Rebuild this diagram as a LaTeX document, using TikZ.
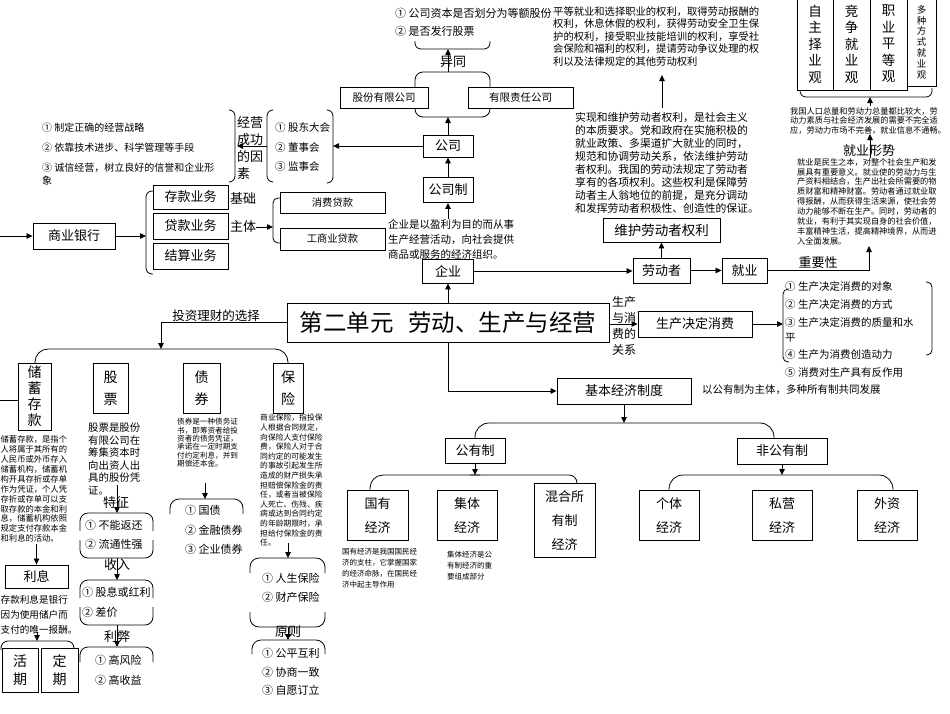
\documentclass[tikz,border=0pt]{standalone}
\usepackage{fontspec}
\setmainfont{Noto Sans CJK SC}
\usetikzlibrary{arrows.meta}
\newcommand{\F}[2]{\fontsize{#1}{#2}\selectfont}
\tikzset{
 bx/.style={draw, line width=0.9pt, fill=white, inner sep=1pt, align=center, font=\F{13}{15}},
 lab/.style={inner sep=0pt, anchor=west},
 para/.style={inner sep=0pt, anchor=north west, align=left},
 captxt/.style={inner sep=0pt, font=\F{13}{15}},
 ln/.style={line width=0.8pt},
 arr/.style={line width=0.8pt, -{Triangle[length=6pt,width=5.5pt]}},
 br/.style={line width=0.8pt, rounded corners=6pt},
}
\begin{document}
\begin{tikzpicture}[x=1pt,y=-1pt]
\fill[white] (0,0) rectangle (950,713);
\useasboundingbox (0,0) rectangle (950,713);

% ===== commercial bank
\coordinate (bankIn) at (0,236);
\node[bx, minimum width=82pt, minimum height=26pt] (bank) at (74,236) {商业银行};
\draw[arr] (bankIn) -- (bank.west);
\coordinate (bankBr) at (146,236);
\draw[arr] (bank.east) -- (bankBr);
\draw[br] (153,191) -- (146,191) -- (146,274) -- (153,274);
\node[bx, minimum width=75pt, minimum height=24pt] (ck) at (190.5,197) {存款业务};
\node[bx, minimum width=75pt, minimum height=26pt] (dk) at (190.5,226) {贷款业务};
\node[bx, minimum width=75pt, minimum height=26pt] (js) at (190.5,256) {结算业务};
\node[lab, font=\F{13}{15}] (jc) at (230,198) {基础};
\node[lab, font=\F{13}{15}] (zt) at (230,227) {主体};
\coordinate (dkBr) at (273,227);
\draw[arr] (zt.east) -- (dkBr);
\draw[br, rounded corners=5pt] (280,198) -- (273,198) -- (273,243) -- (280,243);
\node[bx, font=\F{10.3}{12}, minimum width=105pt, minimum height=21pt] (xf) at (332.5,202.5) {消费贷款};
\node[bx, font=\F{10.3}{12}, minimum width=105pt, minimum height=22pt] (gsy) at (332.5,239) {工商业贷款};

% ===== success factors
\node[lab, font=\F{10}{12}] (s1) at (42,128) {① 制定正确的经营战略};
\node[lab, font=\F{10}{12}] (s2) at (42,148) {② 依靠技术进步、科学管理等手段};
\node[lab, font=\F{10}{12}] (s3) at (42,168) {③ 诚信经营，树立良好的信誉和企业形};
\node[lab, font=\F{10}{12}] (s4) at (42,181) {象};
\draw[br] (229,110) -- (235,110) -- (235,182) -- (229,182);
\node[para, font=\F{13}{17}] (succ) at (237,116.5) {经营\\成功\\的因\\素};
\coordinate (succR) at (237,146);
\draw[br] (273,110) -- (267,110) -- (267,182) -- (273,182);
\coordinate (govL) at (267,146);
\draw[arr] (govL) -- (succR);
\node[lab, font=\F{10.5}{12}] (g1) at (275,128) {① 股东大会};
\node[lab, font=\F{10.5}{12}] (g2) at (275,148) {② 董事会};
\node[lab, font=\F{10.5}{12}] (g3) at (275,167) {③ 监事会};
\draw[br] (327,110) -- (333,110) -- (333,183) -- (327,183);
\coordinate (govR) at (333,146);

% ===== company
\node[bx, minimum width=50pt, minimum height=22pt] (gs) at (448,146) {公司};
\draw[arr] (gs.west) -- (govR);
\node[bx, minimum width=50pt, minimum height=25pt] (gsz) at (448,190) {公司制};
\draw[arr] (gsz.north) -- (gs.south);
\draw[br, rounded corners=8pt] (415,72) rectangle (490,117);
\node[bx, font=\F{10.5}{12}, minimum width=88pt, minimum height=21pt] (gf) at (384,97.5) {股份有限公司};
\node[bx, font=\F{10.5}{12}, minimum width=105pt, minimum height=21pt] (yx) at (520.5,97.5) {有限责任公司};
\coordinate (ytB) at (448,117);
\coordinate (ytT) at (448,72);
\coordinate (ytTop) at (448,49);
\draw[arr] (gs.north) -- (ytB);
\draw[arr] (ytT) -- (ytTop);
\node[captxt] (yt) at (453,62) {异同};
\draw[br] (415,41) -- (415,49) -- (490,49) -- (490,41);
\node[lab, font=\F{11}{12}] (d1) at (395,13) {① 公司资本是否划分为等额股份};
\node[lab, font=\F{11}{12}] (d2) at (395,31) {② 是否发行股票};

% ===== enterprise
\node[bx, minimum width=51pt, minimum height=24pt] (qy) at (448,271) {企业};
\draw[arr] (qy.north) -- (gsz.south);
\node[para, fill=white, font=\F{10.5}{15}] (qyt) at (388,219) {企业是以盈利为目的而从事\\生产经营活动，向社会提供\\商品或服务的经济组织。};

% ===== title
\node[bx, font=\F{23.5}{26}, minimum width=322pt, minimum height=39pt] (title) at (448,322.5) {第二单元\hspace{0.6em}劳动、生产与经营};
\draw[arr] (title.north) -- (qy.south);

% ===== labour
\node[bx, minimum width=57pt, minimum height=25pt] (ldz) at (661.5,270.5) {劳动者};
\node[bx, font=\F{13.5}{15}, minimum width=117pt, minimum height=24pt] (wh) at (661.5,230) {维护劳动者权利};
\node[bx, minimum width=45pt, minimum height=25pt] (jy) at (744.5,270.5) {就业};
\draw[arr] (qy.east) -- (ldz.west |- qy.east);
\draw[arr] (ldz.north) -- (wh.south);
\draw[arr] (ldz.east) -- (jy.west);
\coordinate (zyTop) at (869,246);
\draw[arr] (jy.east) -| (zyTop);
\node[captxt] (zyx) at (818,263) {重要性};

\node[para, font=\F{10.3}{12.5}] (p1) at (553,6.5) {平等就业和选择职业的权利，取得劳动报酬的\\权利，休息休假的权利，获得劳动安全卫生保\\护的权利，接受职业技能培训的权利，享受社\\会保险和福利的权利，提请劳动争议处理的权\\利以及法律规定的其他劳动权利};
\node[para, font=\F{10.8}{13}] (p2) at (575,112.5) {实现和维护劳动者权利，是社会主义\\的本质要求。党和政府在实施积极的\\就业政策、多渠道扩大就业的同时，\\规范和协调劳动关系，依法维护劳动\\者权利。我国的劳动法规定了劳动者\\享有的各项权利。这些权利是保障劳\\动者主人翁地位的前提，是充分调动\\和发挥劳动者积极性、创造性的保证。};
\coordinate (p2top) at (662,108);
\coordinate (p1bot) at (662,75);
\draw[arr] (p2top) -- (p1bot);

% ===== employment views
\draw[br] (800,88) -- (800,97) -- (932,97) -- (932,88);
\node[bx, font=\F{13.5}{16.5}, minimum width=36pt, minimum height=92pt] (b1) at (815,44) {自\\主\\择\\业\\观};
\node[bx, font=\F{13.5}{16.5}, minimum width=37pt, minimum height=92pt] (b2) at (851.5,44) {竞\\争\\就\\业\\观};
\node[bx, font=\F{13.5}{16.5}, minimum width=37pt, minimum height=92pt] (b3) at (888.5,44) {职\\业\\平\\等\\观};
\node[bx, font=\F{9.5}{10.8}, minimum width=29pt, minimum height=88pt] (b4) at (921.5,42) {多\\种\\方\\式\\就\\业\\观};
\coordinate (t3top) at (870,106);
\coordinate (brB) at (870,97);
\draw[arr] (t3top) -- (brB);
\node[para, font=\F{8.2}{9.6}] (t3) at (790,107) {我国人口总量和劳动力总量都比较大，劳\\动力素质与社会经济发展的需要不完全适\\应，劳动力市场不完善，就业信息不通畅。};
\coordinate (xsA) at (870,158);
\coordinate (xsB) at (870,134);
\draw[arr] (xsA) -- (xsB);
\node[captxt] (xs) at (869,151) {就业形势};
\node[para, font=\F{8.2}{9.9}] (p3) at (797,158) {就业是民生之本，对整个社会生产和发\\展具有重要意义。就业使的劳动力与生\\产资料相结合，生产出社会所需要的物\\质财富和精神财富。劳动者通过就业取\\得报酬，从而获得生活来源，使社会劳\\动力能够不断在生产。同时，劳动者的\\就业，有利于其实现自身的社会价值，\\丰富精神生活，提高精神境界，从而进\\入全面发展。};

% ===== production & consumption
\node[para, font=\F{12}{16}] (scgx) at (612,296) {生产\\与消\\费的\\关系};
\node[bx, minimum width=114pt, minimum height=26pt] (sc) at (695,324) {生产决定消费};
\draw[arr] (title.east |- sc.west) -- (sc.west);
\coordinate (scL) at (783,324);
\draw[arr] (sc.east) -- (scL);
\draw[br, rounded corners=5pt] (789,289) -- (783,289) -- (783,362) -- (789,362);
\draw[br, rounded corners=5pt] (926,282) -- (932,282) -- (932,355) -- (926,355);
\node[lab, font=\F{10.5}{12}] (c1) at (785,287) {① 生产决定消费的对象};
\node[lab, font=\F{10.5}{12}] (c2) at (785,305) {② 生产决定消费的方式};
\node[lab, font=\F{10.5}{12}] (c3) at (785,323) {③ 生产决定消费的质量和水};
\node[lab, font=\F{10.5}{12}] (c3b) at (785,338) {平};
\node[lab, font=\F{10.5}{12}] (c4) at (785,355) {④ 生产为消费创造动力};
\node[lab, font=\F{10.5}{12}] (c5) at (785,373) {⑤ 消费对生产具有反作用};
\node[lab, font=\F{10.5}{12}] (zhu) at (702,390) {以公有制为主体，多种所有制共同发展};

% ===== basic economic system
\node[bx, minimum width=134pt, minimum height=26pt] (jb) at (624,391) {基本经济制度};
\draw[arr] (title.south) |- (jb.west);
\coordinate (jbB) at (624,423);
\draw[arr] (jb.south) -- (jbB);
\draw[ln, rounded corners=14pt] (475,438) -- (475,423) -- (774,423) -- (774,438);
\node[bx, minimum width=60pt, minimum height=25pt] (gyz) at (475,450.5) {公有制};
\node[bx, minimum width=90pt, minimum height=26pt] (fgy) at (782,451) {非公有制};
\coordinate (gyzB) at (475,475);
\draw[arr] (gyz.south) -- (gyzB);
\draw[ln, rounded corners=13pt] (370,490) -- (370,475) -- (480,475);
\draw[ln, rounded corners=8pt] (470,475) -- (577,475) -- (577,483);
\node[bx, font=\F{13}{24}, minimum width=61pt, minimum height=50pt] (gy) at (377.5,515) {国有\\经济};
\node[bx, font=\F{13}{24}, minimum width=60pt, minimum height=50pt] (jt) at (467,515) {集体\\经济};
\node[bx, font=\F{13}{24}, minimum width=61pt, minimum height=74pt] (hh) at (564.5,520) {混合所\\有制\\经济};
\node[para, font=\F{7.5}{11}] (gyt) at (342,548) {国有经济是我国国民经\\济的支柱，它掌握国家\\的经济命脉，在国民经\\济中起主导作用};
\node[para, font=\F{7.5}{11}] (jtt) at (447,551) {集体经济是公\\有制经济的重\\要组成部分};
\coordinate (fgyB) at (782,475);
\draw[arr] (fgy.south) -- (fgyB);
\draw[ln, rounded corners=14pt] (669,490) -- (669,475) -- (893,475) -- (893,490);
\node[bx, font=\F{13}{24}, minimum width=60pt, minimum height=50pt] (gt) at (669,515) {个体\\经济};
\node[bx, font=\F{13}{24}, minimum width=60pt, minimum height=50pt] (sy) at (782,515) {私营\\经济};
\node[bx, font=\F{13}{24}, minimum width=60pt, minimum height=50pt] (wz) at (887,515) {外资\\经济};

% ===== investment
\coordinate (invD) at (161,349);
\draw[arr] (title.west) -| (invD);
\node[inner sep=0pt, font=\F{12.5}{14}] (invL) at (216,316) {投资理财的选择};
\draw[ln, rounded corners=13pt] (35,363) -- (35,349) -- (288,349) -- (288,363);

% savings
\node[bx, font=\F{14}{16}, minimum width=33pt, minimum height=67pt] (cx) at (34.5,396.5) {储\\蓄\\存\\款};
\coordinate (cxIn) at (0,400);
\draw[ln] (cxIn) -- (cx.west |- cxIn);
\node[para, font=\F{8.3}{9.9}] (cxt) at (0.5,435.5) {储蓄存款，是指个\\人将属于其所有的\\人民币或外币存入\\储蓄机构，储蓄机\\构开具存折或存单\\作为凭证，个人凭\\存折或存单可以支\\取存款的本金和利\\息，储蓄机构依照\\规定支付存款本金\\和利息的活动。};
\node[bx, minimum width=63pt, minimum height=23pt] (lx) at (36.5,576.5) {利息};
\coordinate (cxtB) at (36.5,544);
\draw[arr] (cxtB) -- (lx.north);
\node[para, font=\F{9.6}{15}] (lxt) at (0.5,595) {存款利息是银行\\因为使用储户而\\支付的唯一报酬。};
\coordinate (lxtB) at (37,632);
\coordinate (dqT) at (37,641);
\draw[arr] (lxtB) -- (dqT);
\draw[br, rounded corners=7pt] (1,650) -- (1,641) -- (74,641) -- (74,650);
\node[bx, font=\F{14}{18}, minimum width=36pt, minimum height=44pt] (hq) at (20,670) {活\\期};
\node[bx, font=\F{14}{18}, minimum width=37pt, minimum height=44pt] (dq) at (59.5,670) {定\\期};

% stock
\node[bx, font=\F{14}{22}, minimum width=35pt, minimum height=50pt] (gp) at (110.5,388) {股\\票};
\node[para, font=\F{10.4}{12.5}] (gpt) at (88,423) {股票是股份\\有限公司在\\筹集资本时\\向出资人出\\具的股份凭\\证。};
\coordinate (gpA) at (117,485);
\coordinate (tzT) at (117,513);
\draw[arr] (gpA) -- (tzT);
\node[captxt] (tzL) at (116,503) {特征};
\draw[br, rounded corners=8pt] (80,531) -- (80,513) -- (153,513) -- (153,531);
\draw[br, rounded corners=8pt] (80,540) -- (80,558) -- (153,558) -- (153,540);
\node[lab, font=\F{11}{13}] (tz1) at (85,525) {① 不能返还};
\node[lab, font=\F{11}{13}] (tz2) at (85,544) {② 流通性强};
\coordinate (tzB) at (117,558);
\coordinate (srT) at (117,580);
\draw[arr] (tzB) -- (srT);
\node[captxt] (srL) at (117,565) {收入};
\draw[br, rounded corners=8pt] (80,598) -- (80,580) -- (153,580) -- (153,598);
\draw[br, rounded corners=8pt] (80,607) -- (80,625) -- (153,625) -- (153,607);
\node[lab, font=\F{11}{13}] (sr1) at (82,592) {① 股息或红利};
\node[lab, font=\F{11}{13}] (sr2) at (82,612) {② 差价};
\coordinate (srB) at (117,625);
\coordinate (lbT) at (117,647);
\draw[arr] (srB) -- (lbT);
\node[captxt] (lbL) at (117,637) {利弊};
\draw[br, rounded corners=8pt] (80,662) -- (80,647) -- (153,647) -- (153,662);
\node[lab, font=\F{11}{13}] (lb1) at (95,660) {① 高风险};
\node[lab, font=\F{11}{13}] (lb2) at (95,680) {② 高收益};

% bond
\node[bx, font=\F{14}{22}, minimum width=37pt, minimum height=50pt] (zq) at (201.5,388) {债\\券};
\node[para, font=\F{7.6}{8.4}] (zqt) at (177,418) {债券是一种债务证\\书，即筹资者给投\\资者的债务凭证，\\承诺在一定时期支\\付约定利息，并到\\期偿还本金。};
\coordinate (zqA) at (205,483);
\coordinate (zqB) at (205,499);
\draw[arr] (zqA) -- (zqB);
\draw[br, rounded corners=9pt] (170,514) -- (170,499) -- (243,499) -- (243,514);
\node[lab, font=\F{11}{13}] (zq1) at (185,510) {① 国债};
\node[lab, font=\F{11}{13}] (zq2) at (185,530) {② 金融债券};
\node[lab, font=\F{11}{13}] (zq3) at (185,549) {③ 企业债券};

% insurance
\node[bx, font=\F{14}{22}, minimum width=30pt, minimum height=50pt] (bxian) at (288,388) {保\\险};
\node[para, font=\F{7.8}{9.6}] (bxt) at (260,414) {商业保险，指投保\\人根据合同规定，\\向保险人支付保险\\费，保险人对于合\\同约定的可能发生\\的事故引起发生所\\造成的财产损失承\\担赔偿保险金的责\\任，或者当被保险\\人死亡、伤残、疾\\病或达到合同约定\\的年龄期限时，承\\担给付保险金的责\\任。};
\coordinate (bxA) at (288,543);
\coordinate (bxB) at (288,558);
\draw[arr] (bxA) -- (bxB);
\draw[br, rounded corners=9pt] (250,573) -- (250,558) -- (325,558) -- (325,573);
\node[lab, font=\F{11}{13}] (bx1) at (262,578) {① 人生保险};
\node[lab, font=\F{11}{13}] (bx2) at (262,597) {② 财产保险};
\draw[br, rounded corners=9pt] (250,612) -- (250,627) -- (325,627) -- (325,612);
\coordinate (yzA) at (288,627);
\coordinate (yzB) at (288,640);
\draw[arr] (yzA) -- (yzB);
\node[captxt] (yzL) at (288,632) {原则};
\draw[br, rounded corners=9pt] (252,654) -- (252,640) -- (325,640) -- (325,654);
\node[lab, font=\F{11}{13}] (yz1) at (262,653) {① 公平互利};
\node[lab, font=\F{11}{13}] (yz2) at (262,672) {② 协商一致};
\node[lab, font=\F{11}{13}] (yz3) at (262,690) {③ 自愿订立};
\end{tikzpicture}
\end{document}
